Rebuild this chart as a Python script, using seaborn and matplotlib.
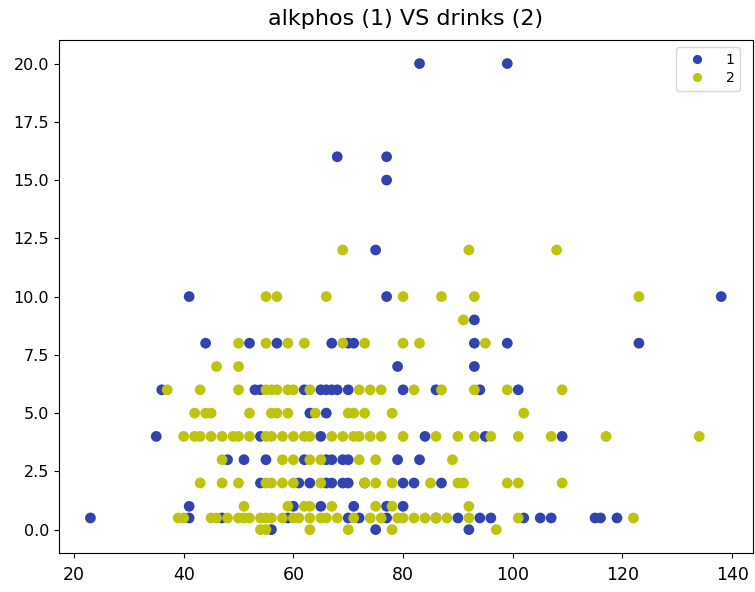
import matplotlib
matplotlib.use("Agg")
import matplotlib.pyplot as plt
import seaborn as sns
import pandas as pd

# selector 1: (alkphos, drinks)
alkphos_1 = [83, 99,
             68, 77,
             77,
             75,
             41, 77, 138,
             93,
             44, 52, 57, 67, 70, 71, 93, 99, 123,
             79, 93,
             36, 53, 54, 62, 65, 66, 67, 68, 70, 80, 86, 94, 101,
             63, 66,
             35, 54, 65, 84, 95, 109,
             48, 51, 55, 62, 66, 67, 69, 70, 79, 83,
             54, 61, 63, 66, 67, 69, 70, 73, 80, 82, 87,
             41, 60, 65, 71, 77, 80,
             23, 41, 47, 59, 70, 72, 77, 86, 90, 94, 96, 102, 105, 107, 115, 116, 119,
             56, 75, 92]
drinks_1 = [20, 20,
            16, 16,
            15,
            12,
            10, 10, 10,
            9,
            8, 8, 8, 8, 8, 8, 8, 8, 8,
            7, 7,
            6, 6, 6, 6, 6, 6, 6, 6, 6, 6, 6, 6, 6,
            5, 5,
            4, 4, 4, 4, 4, 4,
            3, 3, 3, 3, 3, 3, 3, 3, 3, 3,
            2, 2, 2, 2, 2, 2, 2, 2, 2, 2, 2,
            1, 1, 1, 1, 1, 1,
            0.5, 0.5, 0.5, 0.5, 0.5, 0.5, 0.5, 0.5, 0.5, 0.5, 0.5, 0.5, 0.5, 0.5, 0.5, 0.5, 0.5,
            0, 0, 0]

# selector 2: (alkphos, drinks)
alkphos_2 = [69, 92, 108,
             55, 57, 66, 80, 87, 93, 123,
             91,
             50, 55, 59, 62, 69, 73, 80, 83, 95,
             46, 50,
             37, 43, 50, 55, 56, 57, 59, 60, 63, 72, 74, 76, 82, 87, 93, 99, 109,
             42, 44, 45, 52, 56, 57, 59, 64, 70, 71, 73, 78, 102,
             40, 42, 43, 45, 47, 49, 50, 52, 55, 56, 58, 60, 62, 63, 67, 69, 71, 72,
             74, 76, 80, 86, 90, 93, 96, 101, 107, 117, 134,
             47, 58, 60, 63, 65, 72, 75, 89,
             43, 47, 50, 55, 56, 58, 60, 65, 73, 75, 78, 85, 90, 91, 99, 101, 109,
             51, 59, 62, 63, 67, 75, 78, 92,
             39, 40, 45, 46, 48, 50, 51, 52, 54, 55, 56, 58, 60, 61, 63, 65, 66, 68,
             71, 74, 76, 79, 80, 82, 84, 86, 88, 92, 101, 122,
             54, 55, 63, 70, 78, 97]
drinks_2 = [12, 12, 12,
            10, 10, 10, 10, 10, 10, 10,
            9,
            8, 8, 8, 8, 8, 8, 8, 8, 8,
            7, 7,
            6, 6, 6, 6, 6, 6, 6, 6, 6, 6, 6, 6, 6, 6, 6, 6, 6,
            5, 5, 5, 5, 5, 5, 5, 5, 5, 5, 5, 5, 5,
            4, 4, 4, 4, 4, 4, 4, 4, 4, 4, 4, 4, 4, 4, 4, 4, 4, 4,
            4, 4, 4, 4, 4, 4, 4, 4, 4, 4, 4,
            3, 3, 3, 3, 3, 3, 3, 3,
            2, 2, 2, 2, 2, 2, 2, 2, 2, 2, 2, 2, 2, 2, 2, 2, 2,
            1, 1, 1, 1, 1, 1, 1, 1,
            0.5, 0.5, 0.5, 0.5, 0.5, 0.5, 0.5, 0.5, 0.5, 0.5, 0.5, 0.5, 0.5, 0.5, 0.5, 0.5, 0.5, 0.5,
            0.5, 0.5, 0.5, 0.5, 0.5, 0.5, 0.5, 0.5, 0.5, 0.5, 0.5, 0.5,
            0, 0, 0, 0, 0, 0]

selectors = ["1", "2"]
colors = {"1": "#3242ae", "2": "#bec30c"}
y_ticks = [0, 2.5, 5, 7.5, 10, 12.5, 15, 17.5, 20]
x_ticks = [20, 40, 60, 80, 100, 120, 140]

df = pd.concat([
    pd.DataFrame({"alkphos": alkphos_1, "drinks": drinks_1, "selector": selectors[0]}),
    pd.DataFrame({"alkphos": alkphos_2, "drinks": drinks_2, "selector": selectors[1]}),
], ignore_index=True)

fig = plt.figure(figsize=(7.55, 5.92), dpi=100)
ax = fig.add_axes([0.078, 0.066, 0.919, 0.866])

sns.scatterplot(data=df, x="alkphos", y="drinks", hue="selector",
                hue_order=selectors, palette=colors, s=60, linewidth=0,
                alpha=1.0, ax=ax)

ax.set_xlabel("")
ax.set_ylabel("")
ax.set_title("alkphos (1) VS drinks (2)", fontsize=16, pad=11)
ax.tick_params(axis="x", labelsize=12.5, pad=6)
ax.tick_params(axis="y", labelsize=11.5)
ax.set_yticks(y_ticks)
ax.set_yticklabels([f"{v:.1f}" for v in y_ticks])
ax.set_xticks(x_ticks)

handles, labels = ax.get_legend_handles_labels()
ax.legend(handles, labels, loc="upper right", bbox_to_anchor=(0.982, 0.986),
          borderaxespad=0, fontsize=10, title=None,
          handletextpad=1.0, handlelength=2.2, borderpad=0.4,
          labelspacing=0.3, markerscale=0.85)

fig.savefig("out.png", dpi=100)
